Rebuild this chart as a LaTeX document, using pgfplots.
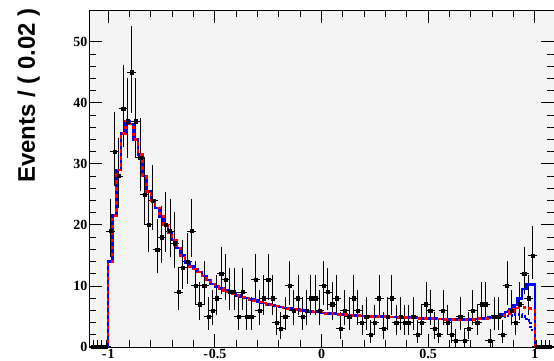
\documentclass[border=0pt]{standalone}
\usepackage{fontspec}
\setmainfont{Liberation Serif}
\newfontfamily\labelfont{Liberation Sans}
\usepackage{pgfplots}
\usepackage{pgfplotstable}
\pgfplotsset{compat=1.18}
\definecolor{bg}{RGB}{244,244,244}

\pgfplotstableread{
x y elo ehi
-1.07 0 0 0.8
-1.05 0 0 0.8
-1.03 0 0 0.8
-1.01 0 0 0.8
-0.99 19 3.89 4.89
-0.97 32 5.18 6.18
-0.95 28 4.82 5.82
-0.93 39 5.77 6.77
-0.91 37 5.60 6.60
-0.89 45 6.23 7.23
-0.87 37 5.60 6.60
-0.85 31 5.09 6.09
-0.83 25 4.52 5.52
-0.81 20 4.00 5.00
-0.79 24 4.42 5.42
-0.77 16 3.53 4.53
-0.75 18 3.77 4.77
-0.73 20 4.00 5.00
-0.71 19 3.89 4.89
-0.69 17 3.65 4.65
-0.67 9 2.54 3.54
-0.65 13 3.14 4.14
-0.63 14 3.28 4.28
-0.61 19 3.89 4.89
-0.59 10 2.70 3.70
-0.57 7 2.19 3.19
-0.55 10 2.70 3.70
-0.53 5 1.79 2.79
-0.51 6 2.00 3.00
-0.49 8 2.37 3.37
-0.47 12 3.00 4.00
-0.45 11 2.85 3.85
-0.43 9 2.54 3.54
-0.41 9 2.54 3.54
-0.39 5 1.79 2.79
-0.37 9 2.54 3.54
-0.35 5 1.79 2.79
-0.33 5 1.79 2.79
-0.31 11 2.85 3.85
-0.29 6 2.00 3.00
-0.27 8 2.37 3.37
-0.25 11 2.85 3.85
-0.23 8 2.37 3.37
-0.21 4 1.56 2.56
-0.19 3 1.30 2.30
-0.17 5 1.79 2.79
-0.15 10 2.70 3.70
-0.13 6 2.00 3.00
-0.11 8 2.37 3.37
-0.09 5 1.79 2.79
-0.07 6 2.00 3.00
-0.05 8 2.37 3.37
-0.03 8 2.37 3.37
-0.01 6 2.00 3.00
0.01 10 2.70 3.70
0.03 9 2.54 3.54
0.05 7 2.19 3.19
0.07 8 2.37 3.37
0.09 3 1.30 2.30
0.11 6 2.00 3.00
0.13 5 1.79 2.79
0.15 8 2.37 3.37
0.17 6 2.00 3.00
0.19 4 1.56 2.56
0.21 5 1.79 2.79
0.23 2 1.00 2.00
0.25 4 1.56 2.56
0.27 8 2.37 3.37
0.29 3 1.30 2.30
0.31 5 1.79 2.79
0.33 8 2.37 3.37
0.35 4 1.56 2.56
0.37 5 1.79 2.79
0.39 4 1.56 2.56
0.41 4 1.56 2.56
0.43 5 1.79 2.79
0.45 2 1.00 2.00
0.47 4 1.56 2.56
0.49 7 2.19 3.19
0.51 6 2.00 3.00
0.53 3 1.30 2.30
0.55 2 1.00 2.00
0.57 6 2.00 3.00
0.59 4 1.56 2.56
0.61 2 1.00 2.00
0.63 1 0.62 1.62
0.65 5 1.79 2.79
0.67 1 0.62 1.62
0.69 3 1.30 2.30
0.71 6 2.00 3.00
0.73 4 1.56 2.56
0.75 7 2.19 3.19
0.77 7 2.19 3.19
0.79 1 0.62 1.62
0.81 5 1.79 2.79
0.83 5 1.79 2.79
0.85 2 1.00 2.00
0.87 10 2.70 3.70
0.89 6 2.00 3.00
0.91 4 1.56 2.56
0.93 7 2.19 3.19
0.95 12 3.00 4.00
0.97 8 2.37 3.37
0.99 15 3.41 4.41
1.01 0 0 0.8
1.03 0 0 0.8
1.05 0 0 0.8
1.07 0 0 0.8
}\datatab

\pgfplotstableread{
x t r d
-1.08 0 0 0
-1.00 14 14 14
-0.98 21.5 21.5 21.5
-0.96 29 29 29
-0.94 35 35 35
-0.92 37 37 37
-0.90 36.5 36.5 36.5
-0.88 34 34 34
-0.86 31.5 31.5 31.5
-0.84 28 28 28
-0.82 25.5 25.5 25.5
-0.80 24 24 24
-0.78 22.8 22.8 22.8
-0.76 21.4 21.4 21.4
-0.74 20 20 20
-0.72 18.7 18.7 18.7
-0.70 17.5 17.5 17.5
-0.68 16.2 16.2 16.2
-0.66 15.0 15.0 15.0
-0.64 13.8 13.8 13.8
-0.62 13.2 13.2 13.2
-0.60 12.8 12.8 12.8
-0.58 12.3 12.3 12.3
-0.56 11.6 11.6 11.6
-0.54 11.0 11.0 11.0
-0.52 10.3 10.3 10.3
-0.50 9.9 9.9 9.9
-0.48 9.6 9.6 9.6
-0.46 9.3 9.3 9.3
-0.44 9.0 9.0 9.0
-0.42 8.7 8.7 8.7
-0.40 8.4 8.4 8.4
-0.38 8.2 8.2 8.2
-0.36 8.0 8.0 8.0
-0.34 7.8 7.8 7.8
-0.32 7.6 7.6 7.6
-0.30 7.4 7.4 7.4
-0.28 7.2 7.2 7.2
-0.26 7.0 7.0 7.0
-0.24 6.85 6.85 6.85
-0.22 6.7 6.7 6.7
-0.20 6.55 6.55 6.55
-0.18 6.4 6.4 6.4
-0.16 6.3 6.3 6.3
-0.14 6.2 6.2 6.2
-0.12 6.1 6.1 6.1
-0.10 6.0 6.0 6.0
-0.08 5.9 5.9 5.9
-0.06 5.8 5.8 5.8
-0.04 5.75 5.75 5.75
-0.02 5.7 5.7 5.7
0.00 5.6 5.6 5.6
0.02 5.5 5.5 5.5
0.04 5.45 5.45 5.45
0.06 5.4 5.4 5.4
0.08 5.35 5.35 5.35
0.10 5.3 5.3 5.3
0.12 5.25 5.25 5.25
0.14 5.2 5.2 5.2
0.16 5.15 5.15 5.15
0.18 5.1 5.1 5.1
0.20 5.05 5.05 5.05
0.22 5.0 5.0 5.0
0.24 5.0 5.0 5.0
0.26 4.95 4.95 4.95
0.28 4.95 4.95 4.95
0.30 4.9 4.9 4.9
0.32 4.9 4.9 4.9
0.34 4.9 4.9 4.9
0.36 4.85 4.85 4.85
0.38 4.8 4.8 4.8
0.40 4.8 4.8 4.8
0.42 4.75 4.75 4.75
0.44 4.75 4.75 4.75
0.46 4.7 4.7 4.7
0.48 4.7 4.7 4.7
0.50 4.7 4.7 4.7
0.52 4.65 4.65 4.65
0.54 4.6 4.6 4.6
0.56 4.6 4.6 4.6
0.58 4.55 4.55 4.55
0.60 4.5 4.5 4.5
0.62 4.5 4.5 4.5
0.64 4.5 4.5 4.5
0.66 4.5 4.5 4.5
0.68 4.55 4.55 4.55
0.70 4.55 4.55 4.55
0.72 4.6 4.6 4.6
0.74 4.65 4.65 4.65
0.76 4.75 4.7 4.7
0.78 4.85 4.8 4.75
0.80 4.95 4.9 4.8
0.82 5.1 5.0 4.9
0.84 5.3 5.2 5.0
0.86 5.7 5.5 5.1
0.88 6.2 5.8 5.2
0.90 6.9 6.1 5.3
0.92 7.9 6.4 5.3
0.94 9.5 6.5 5.0
0.96 10.2 6.3 4.3
0.98 10.2 6.0 2.8
1.00 0 0 0
1.08 0 0 0
}\curvetab

\begin{document}
\begin{tikzpicture}
\begin{axis}[
  scale only axis, width=465pt, height=337pt,
  xmin=-1.09, xmax=1.09, ymin=0, ymax=55.2,
  axis background/.style={fill=bg},
  axis line style={line width=0.9pt},
  tick align=inside,
  xtick={-1,-0.5,0,0.5,1},
  xticklabels={-\kern1pt1,-\kern1pt0.5,0,0.5,1},
  ytick={0,10,20,30,40,50},
  yticklabels={0,10,20,30,40,50},
  minor x tick num=4, minor y tick num=4,
  major tick length=13pt, minor tick length=7pt,
  tick style={black, line width=0.8pt},
  ticklabel style={font=\fontsize{14}{14}\selectfont\bfseries},
  yticklabel style={xshift=2pt},
  xticklabel style={yshift=1.5pt},
]
\addplot[only marks, mark=square*, mark size=1.6pt, black,
  error bars/.cd, x dir=both, x fixed=0.01, y dir=both, y explicit,
  error bar style={line width=1pt, black},
  error mark options={black, mark size=2.4pt, line width=1pt}]
  table[x=x, y=y, y error plus=ehi, y error minus=elo]{\datatab};
\addplot[const plot mark left, blue, line width=2.6pt] table[x=x, y=t]{\curvetab};
\addplot[const plot mark left, blue, line width=2.6pt, dash pattern=on 2pt off 2pt] table[x=x, y=d]{\curvetab};
\addplot[const plot mark left, red, line width=2.6pt, dash pattern=on 3.5pt off 3.5pt] table[x=x, y=r]{\curvetab};
\end{axis}
\node[rotate=90, anchor=base east, inner sep=0pt, font=\labelfont\bfseries\fontsize{24}{28}\selectfont]
  at ([xshift=-54pt,yshift=2pt]current axis.north west) {Events / ( 0.02 )};
\pgfresetboundingbox
\path ([xshift=-89pt,yshift=-14pt]current axis.south west) rectangle ([yshift=10pt]current axis.north east);
\end{tikzpicture}
\end{document}
